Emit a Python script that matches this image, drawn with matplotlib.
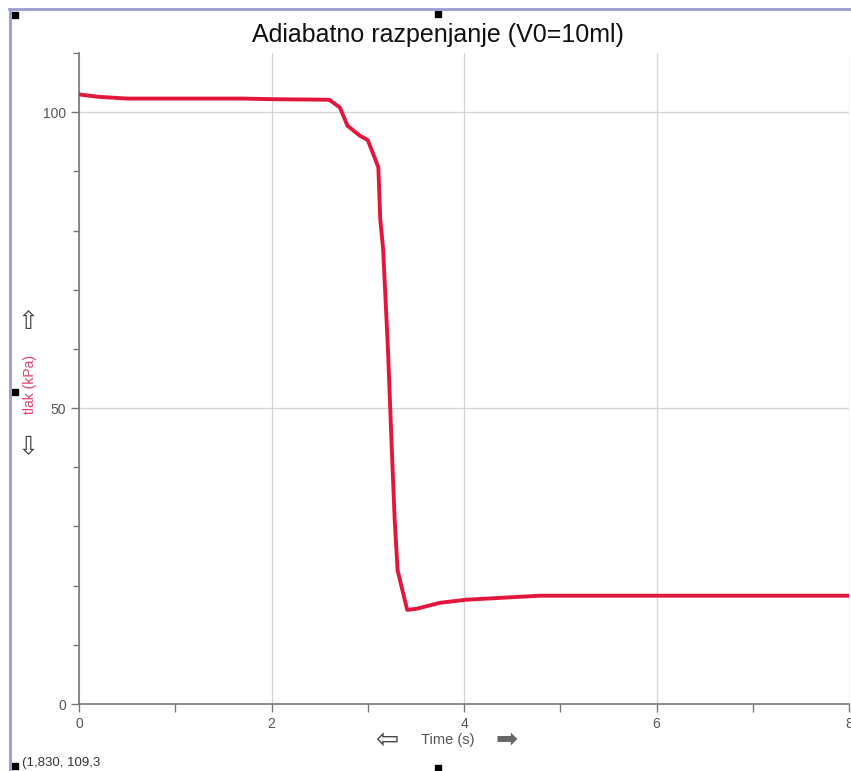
import matplotlib
matplotlib.use("Agg")
import matplotlib.pyplot as plt
from matplotlib.lines import Line2D
from matplotlib.patches import Rectangle
from matplotlib.ticker import MultipleLocator

plt.rcParams.update({"font.family": ["Liberation Sans", "DejaVu Sans"]})

W, H = 851, 771

# pressure curve
time_s = [0, 0.2, 0.5, 1.7, 2.0, 2.6, 2.71, 2.79, 2.92, 3.0, 3.11, 3.13, 3.16,
          3.21, 3.25, 3.28, 3.31, 3.41, 3.51, 3.75, 4.01, 4.34, 4.79, 8.0]
tlak_kpa = [103.0, 102.6, 102.3, 102.3, 102.2, 102.1, 100.8, 97.7, 96.0, 95.3,
            90.7, 81.9, 76.8, 59.9, 43.0, 31.1, 22.6, 15.9, 16.1, 17.1, 17.6,
            17.9, 18.3, 18.3]

x_major = [0, 2, 4, 6, 8]
y_major = [0, 50, 100]

RED = "#e3173e"
GREY = "#555555"


def px(x, y):
    return x / W, 1 - y / H


fig = plt.figure(figsize=(W / 100, H / 100), dpi=100)
ax = fig.add_axes([79 / W, 1 - 704 / H, (849 - 79) / W, (704 - 53) / H])

ax.plot(time_s, tlak_kpa, color=RED, lw=2.8, solid_joinstyle="round",
        solid_capstyle="round", zorder=3)
ax.set_xlim(0, 8); ax.set_ylim(0, 110)

ax.set_xticks(x_major)
ax.set_yticks(y_major)
ax.xaxis.set_minor_locator(MultipleLocator(1))
ax.yaxis.set_minor_locator(MultipleLocator(10))
ax.tick_params(axis="both", which="both", colors="#777777", labelcolor=GREY, labelsize=10)
ax.tick_params(axis="x", which="both", length=6, width=1)
ax.tick_params(axis="y", which="major", length=6, width=1)
ax.tick_params(axis="y", which="minor", length=4, width=1)
for s in ("top", "right"):
    ax.spines[s].set_visible(False)
for s in ("left", "bottom"):
    ax.spines[s].set_color("#777777"); ax.spines[s].set_linewidth(1.2)
ax.grid(True, which="major", color="#d4d4d4", lw=0.9)
ax.set_axisbelow(True)

# title and axis labels
fig.text(*px(438, 35), "Adiabatno razpenjanje (V0=10ml)", ha="center", va="center",
         fontsize=18, color="#111111")
fig.text(*px(30, 385), "tlak (kPa)", rotation=90, ha="center", va="center",
         fontsize=10, color="#e0406a")
fig.text(*px(28, 322), "\u21e7", ha="center", va="center", fontsize=18, color="#444444",
         family="DejaVu Sans")
fig.text(*px(28, 447), "\u21e9", ha="center", va="center", fontsize=18, color="#444444",
         family="DejaVu Sans")
fig.text(*px(448, 740), "Time (s)", ha="center", va="center", fontsize=10.5, color=GREY)
fig.text(*px(387, 740), "\u21e6", ha="center", va="center", fontsize=20, color="#444444",
         family="DejaVu Sans")
fig.text(*px(507, 740), "\u27a1", ha="center", va="center", fontsize=19, color="#666666",
         family="DejaVu Sans")
fig.text(*px(22, 763), "(1,830, 109,3", ha="left", va="center", fontsize=9.5, color="#333333")

# window frame and selection handles
fig.add_artist(Line2D([9 / W, 1], [1 - 9 / H, 1 - 9 / H], color="#9c9cd0", lw=2))
fig.add_artist(Line2D([10 / W, 10 / W], [0, 1 - 9 / H], color="#9c9cd0", lw=2))
for hx, hy in [(15, 15), (438, 14), (15, 392), (15, 766), (438, 768)]:
    fig.add_artist(Rectangle(((hx - 3) / W, 1 - (hy + 3) / H), 6 / W, 6 / H,
                             color="black", transform=fig.transFigure))

fig.savefig("out.png", dpi=100)
